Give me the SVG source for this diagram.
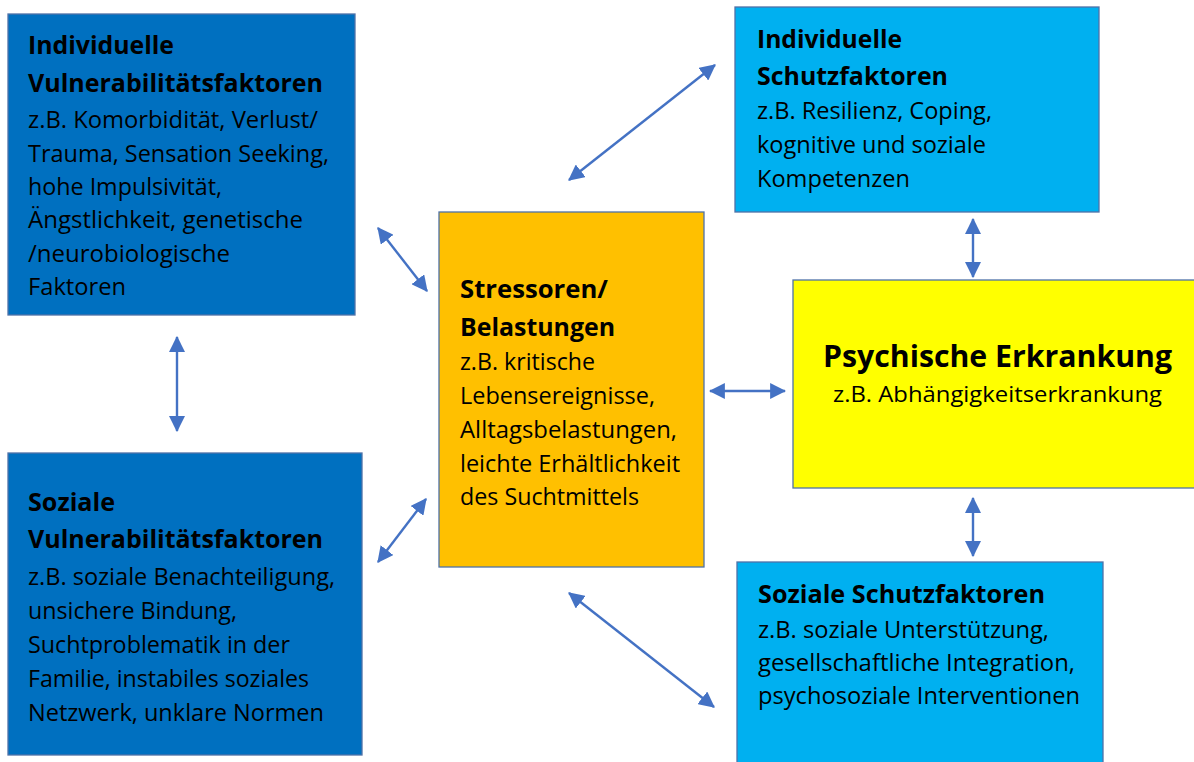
<svg xmlns="http://www.w3.org/2000/svg" width="1194" height="762" viewBox="0 0 1194 762">
<defs>
<style>
.box{stroke:#4F72A8;stroke-width:1.3}
.dark{fill:#0070C0}
.light{fill:#00B0F0}
.orange{fill:#FFC000}
.yellow{fill:#FFFF00}
text{font-family:"Open Sans","Noto Sans","Liberation Sans",sans-serif;fill:#000;font-size:23px}
.b{font-weight:700;font-size:24.5px}
.conn line{stroke:#4472C4;stroke-width:2.4;marker-start:url(#ah);marker-end:url(#ah)}
</style>
<marker id="ah" viewBox="0 0 10 10" refX="9.3" refY="5" markerUnits="userSpaceOnUse" markerWidth="16" markerHeight="16" orient="auto-start-reverse">
<path d="M0,0 L10,5 L0,10 z" fill="#4472C4"/>
</marker>
</defs>
<rect width="1194" height="762" fill="#fff"/>

<g id="ind-vuln">
<rect class="box dark" x="8" y="14" width="347" height="301"/>
<text class="b" x="28" y="54" textLength="146" lengthAdjust="spacingAndGlyphs">Individuelle</text>
<text class="b" x="28" y="92" textLength="295" lengthAdjust="spacingAndGlyphs">Vulnerabilitätsfaktoren</text>
<text x="28" y="128" textLength="290" lengthAdjust="spacingAndGlyphs">z.B. Komorbidität, Verlust/</text>
<text x="28" y="162" textLength="301" lengthAdjust="spacingAndGlyphs">Trauma, Sensation Seeking,</text>
<text x="28" y="195" textLength="194" lengthAdjust="spacingAndGlyphs">hohe Impulsivität,</text>
<text x="28" y="228" textLength="275" lengthAdjust="spacingAndGlyphs">Ängstlichkeit, genetische</text>
<text x="28" y="262" textLength="202" lengthAdjust="spacingAndGlyphs">/neurobiologische</text>
<text x="28" y="295" textLength="98" lengthAdjust="spacingAndGlyphs">Faktoren</text>
</g>

<g id="soz-vuln">
<rect class="box dark" x="8" y="453" width="354" height="302"/>
<text class="b" x="28" y="511" textLength="87" lengthAdjust="spacingAndGlyphs">Soziale</text>
<text class="b" x="28" y="548" textLength="295" lengthAdjust="spacingAndGlyphs">Vulnerabilitätsfaktoren</text>
<text x="28" y="585" textLength="307" lengthAdjust="spacingAndGlyphs">z.B. soziale Benachteiligung,</text>
<text x="28" y="619" textLength="209" lengthAdjust="spacingAndGlyphs">unsichere Bindung,</text>
<text x="28" y="653" textLength="262" lengthAdjust="spacingAndGlyphs">Suchtproblematik in der</text>
<text x="28" y="687" textLength="281" lengthAdjust="spacingAndGlyphs">Familie, instabiles soziales</text>
<text x="28" y="721" textLength="296" lengthAdjust="spacingAndGlyphs">Netzwerk, unklare Normen</text>
</g>

<g id="stressoren">
<rect class="box orange" x="439" y="212" width="265" height="355"/>
<text class="b" x="460" y="298" textLength="148" lengthAdjust="spacingAndGlyphs">Stressoren/</text>
<text class="b" x="460" y="336" textLength="155" lengthAdjust="spacingAndGlyphs">Belastungen</text>
<text x="460" y="370" textLength="135" lengthAdjust="spacingAndGlyphs">z.B. kritische</text>
<text x="460" y="404" textLength="195" lengthAdjust="spacingAndGlyphs">Lebensereignisse,</text>
<text x="460" y="438" textLength="217" lengthAdjust="spacingAndGlyphs">Alltagsbelastungen,</text>
<text x="460" y="472" textLength="220" lengthAdjust="spacingAndGlyphs">leichte Erhältlichkeit</text>
<text x="460" y="505" textLength="179" lengthAdjust="spacingAndGlyphs">des Suchtmittels</text>
</g>

<g id="ind-schutz">
<rect class="box light" x="735" y="7" width="364" height="205"/>
<text class="b" x="757" y="48" textLength="145" lengthAdjust="spacingAndGlyphs">Individuelle</text>
<text class="b" x="757" y="85" textLength="191" lengthAdjust="spacingAndGlyphs">Schutzfaktoren</text>
<text x="757" y="119" textLength="235" lengthAdjust="spacingAndGlyphs">z.B. Resilienz, Coping,</text>
<text x="757" y="153" textLength="229" lengthAdjust="spacingAndGlyphs">kognitive und soziale</text>
<text x="757" y="187" textLength="153" lengthAdjust="spacingAndGlyphs">Kompetenzen</text>
</g>

<g id="psych">
<rect class="box yellow" x="793" y="280" width="420" height="208"/>
<text class="b" x="823" y="367" style="font-size:29.5px" textLength="349" lengthAdjust="spacingAndGlyphs">Psychische Erkrankung</text>
<text x="833" y="402" style="font-size:22px" textLength="329" lengthAdjust="spacingAndGlyphs">z.B. Abhängigkeitserkrankung</text>
</g>

<g id="soz-schutz">
<rect class="box light" x="737" y="562" width="366" height="220"/>
<text class="b" x="758" y="603" textLength="287" lengthAdjust="spacingAndGlyphs">Soziale Schutzfaktoren</text>
<text x="758" y="638" textLength="291" lengthAdjust="spacingAndGlyphs">z.B. soziale Unterstützung,</text>
<text x="758" y="671" textLength="317" lengthAdjust="spacingAndGlyphs">gesellschaftliche Integration,</text>
<text x="758" y="704" textLength="322" lengthAdjust="spacingAndGlyphs">psychosoziale Interventionen</text>
</g>

<g id="connectors" class="conn">
<line x1="177" y1="337" x2="177" y2="431"/>
<line x1="378" y1="228" x2="427" y2="291"/>
<line x1="426" y1="499" x2="378" y2="562"/>
<line x1="569" y1="180" x2="715" y2="65"/>
<line x1="710" y1="391" x2="785" y2="391"/>
<line x1="973" y1="219" x2="973" y2="277"/>
<line x1="973" y1="498" x2="973" y2="556"/>
<line x1="569" y1="593" x2="714" y2="707"/>
</g>
</svg>
